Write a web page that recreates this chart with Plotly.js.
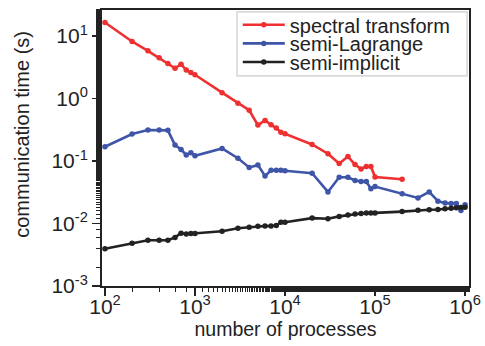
<!DOCTYPE html>
<html>
<head>
<meta charset="utf-8">
<script src="https://cdn.plot.ly/plotly-3.0.1.min.js"></script>
<style>html,body{margin:0;padding:0;background:#fff;}#chart{width:485px;height:346px;}</style>
</head>
<body>
<div id="chart"></div>
<script>
// processes counts
const xSpectral = [100,200,300,400,500,600,700,800,900,1000,2000,3000,4000,5000,6000,7000,8000,9000,10000,20000,30000,40000,50000,60000,70000,80000,90000,100000,200000];
const ySpectral = [16.5,8.2,5.8,4.5,3.65,3.05,3.55,2.85,2.6,2.4,1.24,0.84,0.65,0.376,0.446,0.38,0.337,0.29,0.274,0.184,0.131,0.0914,0.118,0.088,0.0743,0.082,0.082,0.0556,0.051];

const xOther = [100,200,300,400,500,600,700,800,900,1000,2000,3000,4000,5000,6000,7000,8000,9000,10000,20000,30000,40000,50000,60000,70000,80000,90000,100000,200000,300000,400000,500000,600000,700000,800000,900000,1000000];
const ySemiLagrange = [0.169,0.271,0.313,0.313,0.31,0.18,0.153,0.125,0.136,0.121,0.159,0.111,0.079,0.086,0.0577,0.071,0.071,0.071,0.07,0.064,0.032,0.055,0.055,0.049,0.047,0.047,0.036,0.039,0.030,0.0257,0.032,0.0228,0.0212,0.021,0.021,0.0162,0.020];
const ySemiImplicit = [0.00394,0.00484,0.0054,0.0054,0.0054,0.006,0.0070,0.0068,0.0069,0.0069,0.0075,0.0084,0.0087,0.009,0.0091,0.0091,0.0093,0.0105,0.0105,0.0122,0.0119,0.013,0.0137,0.0142,0.0145,0.0147,0.0147,0.0148,0.0155,0.0163,0.0166,0.0168,0.0172,0.0175,0.0178,0.018,0.0182];

const seriesNames = ['spectral transform','semi-Lagrange','semi-implicit'];
const seriesColors = ['#ee3030','#3f55a8','#222222'];

const xTickVals = [100,1000,10000,100000,1000000];
const xTickText = ['10<sup>2</sup>','10<sup>3</sup>','10<sup>4</sup>','10<sup>5</sup>','10<sup>6</sup>'];
const yTickVals = [0.001,0.01,0.1,1,10];
const yTickText = ['10<sup>-3</sup>','10<sup>-2</sup>','10<sup>-1</sup>','10<sup>0</sup>','10<sup>1</sup>'];

const xTitle = 'number of processes';
const yTitle = 'communication time (s)';

const FONT = '"Liberation Sans", Arial, sans-serif';

function tr(x, y, i, leg) {
  return {
    x: x, y: y, name: seriesNames[i], type: 'scatter', mode: 'lines+markers',
    line: {color: seriesColors[i], width: 2.6},
    marker: {color: seriesColors[i], size: 5.5},
    legend: leg
  };
}

const data = [
  tr(xSpectral, ySpectral, 0, 'legend'),
  tr(xOther, ySemiLagrange, 1, 'legend2'),
  tr(xOther, ySemiImplicit, 2, 'legend3')
];

function leg(yc) {
  return {x: 0.37, xanchor: 'left', y: yc, yanchor: 'middle', bgcolor: 'rgba(0,0,0,0)',
          borderwidth: 0, font: {family: FONT, size: 20, color: '#222'}, itemwidth: 42};
}

const layout = {
  width: 485, height: 346,
  margin: {l: 102, r: 16, t: 5, b: 60},
  paper_bgcolor: '#fff', plot_bgcolor: '#fff',
  font: {family: FONT, color: '#222'},
  showlegend: true,
  legend: leg(1 - 15/281),
  legend2: leg(1 - 34/281),
  legend3: leg(1 - 53/281),
  shapes: [{type: 'rect', xref: 'paper', yref: 'paper', x0: 0.368, x1: 0.9946, y0: 0.7616, y1: 0.9929,
            fillcolor: '#fff', line: {color: '#cccccc', width: 1.2}, layer: 'above'}],
  annotations: [{text: yTitle, textangle: -90, xref: 'paper', yref: 'paper', x: -0.218, y: 0.5516,
                 xanchor: 'center', yanchor: 'middle', showarrow: false,
                 font: {family: FONT, size: 20, color: '#222'}}],
  xaxis: {
    type: 'log', range: [1.967, 6.044],
    tickvals: xTickVals, ticktext: xTickText,
    ticks: 'outside', ticklen: 8, tickwidth: 1.5, tickcolor: '#222',
    minor: {ticks: 'outside', ticklen: 4, tickwidth: 1, tickcolor: '#222', showgrid: false},
    showline: true, linewidth: 2, linecolor: '#222', mirror: true,
    showgrid: false, zeroline: false,
    ticklabelstandoff: -7,
    tickfont: {family: FONT, size: 21, color: '#222'},
    title: {text: xTitle, font: {family: FONT, size: 19.5, color: '#222'}, standoff: 4}
  },
  yaxis: {
    type: 'log', range: [-3, 1.417],
    tickvals: yTickVals, ticktext: yTickText,
    ticks: 'outside', ticklen: 8, tickwidth: 1.5, tickcolor: '#222',
    minor: {ticks: 'outside', ticklen: 4, tickwidth: 1, tickcolor: '#222', showgrid: false},
    showline: true, linewidth: 2, linecolor: '#222', mirror: true,
    showgrid: false, zeroline: false,
    tickfont: {family: FONT, size: 21, color: '#222'}
  }
};

Plotly.newPlot('chart', data, layout, {staticPlot: true, displayModeBar: false});
</script>
</body>
</html>
